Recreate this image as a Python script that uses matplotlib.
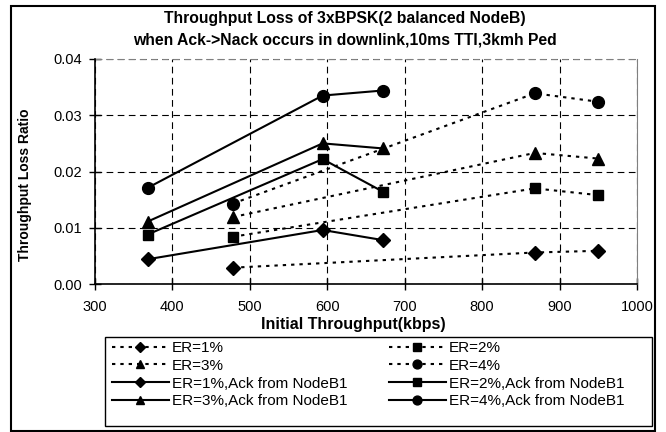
import matplotlib
matplotlib.use("Agg")
import matplotlib.pyplot as plt
from matplotlib.patches import Rectangle

plt.rcParams['font.family'] = ['Liberation Sans', 'DejaVu Sans']

# ER series without NodeB1 ack (dotted)
x_plain = [478, 868, 950]
er1 = [0.0029, 0.0056, 0.0059]
er2 = [0.0084, 0.0170, 0.0158]
er3 = [0.0119, 0.0233, 0.0223]
er4 = [0.0143, 0.0339, 0.0324]

# ER series with ack from NodeB1 (solid)
x_ack = [368, 594, 672]
er1_ack = [0.0044, 0.0096, 0.0078]
er2_ack = [0.0088, 0.0222, 0.0164]
er3_ack = [0.0111, 0.0250, 0.0241]
er4_ack = [0.0171, 0.0335, 0.0344]

labels = ['ER=1%', 'ER=2%', 'ER=3%', 'ER=4%']
markers = ['D', 's', '^', 'o']
msizes = [7, 7.5, 8.5, 8.5]

W, H = 666, 432
fig = plt.figure(figsize=(W / 100, H / 100), dpi=100)
ax = fig.add_axes([95 / W, 1 - 284 / H, (637 - 95) / W, (284 - 59) / H])

dotted = (0, (1.6, 2.4))
handles = {}
for lab, ys, m, ms in zip(labels, [er1, er2, er3, er4], markers, msizes):
    h, = ax.plot(x_plain, ys, color='black', linestyle=dotted, linewidth=1.5,
                 marker=m, markersize=ms, label=lab)
    handles[lab] = h
for lab, ys, m, ms in zip(labels, [er1_ack, er2_ack, er3_ack, er4_ack], markers, msizes):
    h, = ax.plot(x_ack, ys, color='black', linestyle='-', linewidth=1.5,
                 marker=m, markersize=ms, label=lab + ',Ack from NodeB1')
    handles[lab + ',Ack from NodeB1'] = h

ax.set_xlim(300, 1000)
ax.set_ylim(0, 0.04)
ax.set_xticks(range(300, 1001, 100))
ax.set_yticks([0, 0.01, 0.02, 0.03, 0.04])
ax.set_yticklabels(['0.00', '0.01', '0.02', '0.03', '0.04'])
ax.tick_params(direction='inout', length=9, width=1, labelsize=10.5, colors='black')
ax.tick_params(axis='x', pad=7)
ax.tick_params(axis='y', pad=5)
ax.grid(True, color='black', linestyle=(0, (6, 4)), linewidth=0.8)
ax.spines['top'].set_visible(False)
ax.spines['right'].set_color('#808080')
ax.spines['left'].set_linewidth(1.2)
ax.spines['bottom'].set_linewidth(1.2)
ax.axhline(0.04, color='#808080', linestyle=(0, (6, 4)), linewidth=0.8, clip_on=False)

# axis titles
fig.text(353 / W, 1 - 325 / H, 'Initial Throughput(kbps)', fontsize=11.5,
         fontweight='bold', ha='center', va='center')
fig.text(25 / W, 1 - 185 / H, 'Throughput Loss Ratio', rotation=90, fontsize=10,
         fontweight='bold', ha='center', va='center')

fig.text(345 / W, 1 - 18 / H, 'Throughput Loss of 3xBPSK(2 balanced NodeB)',
         fontsize=11.3, fontweight='bold', ha='center', va='center')
fig.text(345 / W, 1 - 40 / H, 'when Ack->Nack occurs in downlink,10ms TTI,3kmh Ped',
         fontsize=11.3, fontweight='bold', ha='center', va='center')

order = ['ER=1%', 'ER=3%', 'ER=1%,Ack from NodeB1', 'ER=3%,Ack from NodeB1',
         'ER=2%', 'ER=4%', 'ER=2%,Ack from NodeB1', 'ER=4%,Ack from NodeB1']
leg = fig.legend([handles[k] for k in order], order, ncol=2,
                 loc='upper left', bbox_to_anchor=(112 / W, 1 - 341 / H),
                 fontsize=11, frameon=False, borderpad=0, borderaxespad=0,
                 handlelength=3.7, handletextpad=0.2, columnspacing=2.75,
                 labelspacing=0.25, markerscale=0.75)

# legend box
fig.patches.append(Rectangle((105 / W, 1 - 426 / H), (652 - 105) / W, (426 - 337) / H,
                             transform=fig.transFigure, fill=False,
                             edgecolor='black', linewidth=1.0))
# outer chart border
fig.patches.append(Rectangle((11 / W, 0.002), (655 - 11) / W, 1 - 6 / H - 0.002,
                             transform=fig.transFigure, fill=False,
                             edgecolor='black', linewidth=1.5))

fig.savefig('out.png', dpi=100)
